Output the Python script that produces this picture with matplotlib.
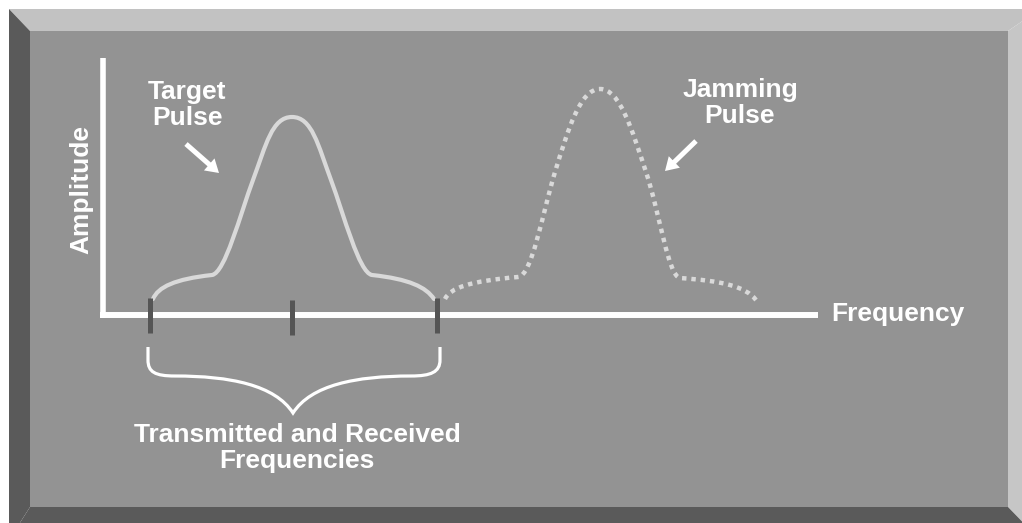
import matplotlib
matplotlib.use("Agg")
import matplotlib.pyplot as plt
from matplotlib.path import Path
from matplotlib.patches import PathPatch, Polygon, FancyArrow

plt.rcParams['font.family'] = ['Liberation Sans', 'DejaVu Sans']

# ---- data (diagram units = pixels of the 1022x523 canvas) ----
# Bezier vertices of the target pulse (MOVETO + CURVE4 segments)
target_x = [153, 158, 175, 212, 225, 240, 253, 266, 272, 292, 312, 318, 331, 344, 359, 372, 409, 426, 434]
target_y = [299, 287, 279, 275, 273, 215, 180, 145, 117, 117, 117, 145, 180, 215, 273, 275, 279, 287, 299]
# Bezier vertices of the jamming pulse
jam_x = [445, 450, 470, 518, 532, 542, 555, 568, 580, 600, 620, 632, 646, 660, 668, 680, 722, 745, 756]
jam_y = [299, 288, 281, 277, 276, 215, 172, 130, 89, 89, 89, 130, 172, 214, 276, 278, 281, 286, 300]
# frequency tick positions
tick_x = [150, 292, 437]
tick_top = [298, 300, 298]
tick_bot = [333, 335, 333]
# brace vertices
brace_x = [148, 148, 148, 155, 175, 230, 275, 293, 311, 356, 411, 431, 440, 440, 440]
brace_y = [347, 360, 372, 376, 376, 376, 385, 413, 385, 376, 376, 376, 372, 360, 347]
brace_codes = [Path.MOVETO, Path.LINETO, Path.CURVE4, Path.CURVE4, Path.CURVE4,
               Path.CURVE4, Path.CURVE4, Path.CURVE4, Path.CURVE4, Path.CURVE4, Path.CURVE4,
               Path.CURVE4, Path.CURVE4, Path.CURVE4, Path.LINETO]

FACE = '#939393'
LIGHT = '#c2c2c2'
DARK = '#5a5a5a'
PULSE = '#d9d9d9'

fig = plt.figure(figsize=(10.22, 5.23), dpi=100)
fig.patch.set_facecolor('white')
ax = fig.add_axes([0, 0, 1, 1])
ax.set_xlim(0, 1022)
ax.set_ylim(523, 0)
ax.axis('off')

# beveled frame
ax.add_patch(Polygon([(9, 9), (1040, 9), (1008, 31), (30, 31)], closed=True, fc=LIGHT, ec='none'))
ax.add_patch(Polygon([(1008, 31), (1040, 9), (1040, 540), (1008, 507)], closed=True, fc='#c6c6c6', ec='none'))
ax.add_patch(Polygon([(9, 9), (30, 31), (30, 507), (9, 540)], closed=True, fc=DARK, ec='none'))
ax.add_patch(Polygon([(30, 507), (1008, 507), (1040, 540), (9, 540)], closed=True, fc=DARK, ec='none'))
ax.add_patch(Polygon([(30, 31), (1008, 31), (1008, 507), (30, 507)], closed=True, fc=FACE, ec='none'))

# axes lines
ax.plot([103, 103], [58, 318], color='white', lw=4.0, solid_capstyle='butt')
ax.plot([100, 818], [315, 315], color='white', lw=4.3, solid_capstyle='butt')

def curve(xs, ys):
    codes = [Path.MOVETO] + [Path.CURVE4] * (len(xs) - 1)
    return Path(list(zip(xs, ys)), codes)

# pulses
ax.add_patch(PathPatch(curve(target_x, target_y), fc='none', ec=PULSE, lw=3.0, capstyle='round'))
ax.add_patch(PathPatch(curve(jam_x, jam_y), fc='none', ec=PULSE, lw=3.2,
                       linestyle=(0, (1.0, 1.1)), capstyle='butt'))

# ticks
for x, t, b in zip(tick_x, tick_top, tick_bot):
    ax.plot([x, x], [t, b], color='#555555', lw=3.6, solid_capstyle='butt')

# brace
ax.add_patch(PathPatch(Path(list(zip(brace_x, brace_y)), brace_codes), fc='none', ec='white', lw=2.3))

# arrows
ax.add_patch(FancyArrow(186, 144, 33, 29, width=5, head_width=16, head_length=13,
                        length_includes_head=True, fc='white', ec='none'))
ax.add_patch(FancyArrow(696, 141, -31, 30, width=5, head_width=16, head_length=13,
                        length_includes_head=True, fc='white', ec='none'))

tk = dict(color='white', fontweight='bold', fontsize=19, linespacing=1.12)
ax.text(187, 105, 'Target\nPulse', ha='center', va='center', **tk)
ax.text(740, 103, 'Jamming\nPulse', ha='center', va='center', **tk)
ax.text(81, 190, 'Amplitude', ha='center', va='center', rotation=90, **tk)
ax.text(831, 314, 'Frequency', ha='left', va='center', **tk)
ax.text(297, 448, 'Transmitted and Received\nFrequencies', ha='center', va='center', **tk)

fig.savefig('out.png', dpi=100, facecolor='white')
